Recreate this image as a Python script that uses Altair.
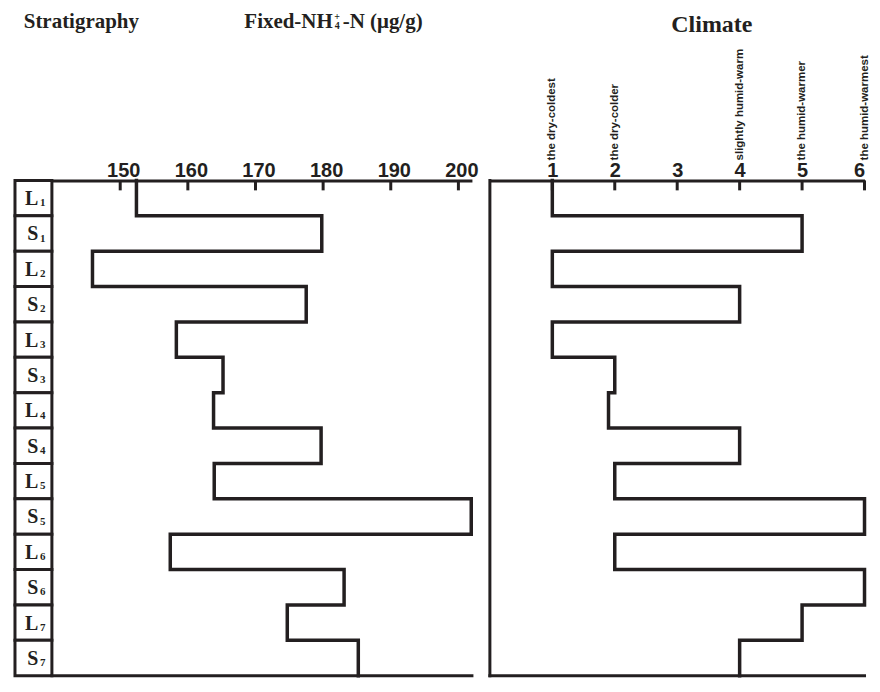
import altair as alt
import pandas as pd

# ---------------- data ----------------
layers = ["L", "S", "L", "S", "L", "S", "L", "S", "L", "S", "L", "S", "L", "S"]
layer_nums = ["1", "1", "2", "2", "3", "3", "4", "4", "5", "5", "6", "6", "7", "7"]
nh4_values = [152.4, 179.8, 145.9, 177.5, 158.3, 165.2, 163.8, 179.7, 163.9, 201.9, 157.4, 183.1, 174.7, 185.2]
climate_values = [1, 5, 1, 4, 1, 2, 1.9, 4, 2, 6, 2, 6, 5, 4]
nh4_ticks = [150, 160, 170, 180, 190, 200]
climate_ticks = [1, 2, 3, 4, 5, 6]
climate_tick_labels = ["the dry-coldest", "the dry-colder", "", "slightly humid-warm",
                       "the humid-warmer", "the humid-warmest"]

# ---------------- layout ----------------
TOP = 180          # page y of plot top (used for title offsets)
H = 496.5
W_S = 37
W_N = 421
GAP = 18
W_C = 375.5
INK = "#231f20"
SERIF = "Liberation Serif"
SANS = "Liberation Sans"

n = len(layers)
rows = pd.DataFrame({"layer": layers, "num": layer_nums,
                     "top": list(range(n)), "bot": list(range(1, n + 1))})
rows["mid"] = rows["top"] + 0.5

yscale = alt.Scale(domain=[0, n], reverse=True, nice=False, zero=False)


def step_df(values):
    recs = []
    for i, v in enumerate(values):
        recs.append({"v": v, "d": i, "o": 2 * i})
        recs.append({"v": v, "d": i + 1, "o": 2 * i + 1})
    return pd.DataFrame(recs)


def txt(t, x, base_page, size, align="left", font=SERIF, weight="bold"):
    return alt.Chart(pd.DataFrame({"t": [t]})).mark_text(
        font=font, fontWeight=weight, fontSize=size, align=align, baseline="alphabetic",
        color=INK
    ).encode(x=alt.value(x), y=alt.value(base_page - TOP), text="t:N")


# ---------------- stratigraphy column ----------------
base_s = alt.Chart(rows)
cells = base_s.mark_rect(fill="white", stroke=INK, strokeWidth=3).encode(
    x=alt.value(0), x2=alt.value(W_S),
    y=alt.Y("top:Q", scale=yscale, axis=None), y2="bot:Q")
letters = base_s.mark_text(font=SERIF, fontWeight="bold", fontSize=20, align="right",
                           baseline="alphabetic", dy=7.0, color=INK).encode(
    x=alt.value(23.5), y=alt.Y("mid:Q", scale=yscale, axis=None), text="layer:N")
subs = base_s.mark_text(font=SERIF, fontWeight="bold", fontSize=11, align="left",
                        baseline="alphabetic", dy=8.2, color=INK).encode(
    x=alt.value(25), y=alt.Y("mid:Q", scale=yscale, axis=None), text="num:N")
strat = alt.layer(cells, letters, subs,
                  txt("Stratigraphy", 66.5, 27, 21, align="center")
                  ).properties(width=W_S, height=H)

# ---------------- Fixed-NH4 panel ----------------
xs_n = alt.Scale(domain=[139.9, 202], nice=False, zero=False)
nh_line = alt.Chart(step_df(nh4_values)).mark_line(
    color=INK, strokeWidth=3.5, strokeJoin="miter", strokeCap="square").encode(
    x=alt.X("v:Q", scale=xs_n,
            axis=alt.Axis(orient="top", values=nh4_ticks, title=None, labelOffset=3,
                          format="d", grid=False)),
    y=alt.Y("d:Q", scale=yscale, axis=None),
    order="o:Q")
nh_ticks = alt.Chart(pd.DataFrame({"v": nh4_ticks})).mark_rule(color=INK, strokeWidth=3).encode(
    x=alt.X("v:Q", scale=xs_n), y=alt.value(0), y2=alt.value(10))
nh_bottom = alt.Chart(pd.DataFrame({"v": [0]})).mark_rule(color=INK, strokeWidth=3, strokeCap="square").encode(
    x=alt.datum(139.9), x2=alt.datum(202), y=alt.datum(n))
nh4 = alt.layer(
    nh_line, nh_ticks, nh_bottom,
    txt("Fixed-NH", 281.5, 27.5, 21, align="right"),
    txt("4", 283.5, 28.5, 10),
    txt("+", 283.0, 19, 10),
    txt("-N (\u03bcg/g)", 291.5, 27.5, 21),
).properties(width=W_N, height=H)

# ---------------- Climate panel ----------------
xs_c = alt.Scale(domain=[0, 6], range=[GAP, GAP + W_C], nice=False, zero=False)
cl_line = alt.Chart(step_df(climate_values)).mark_line(
    color=INK, strokeWidth=3.5, strokeJoin="miter", strokeCap="square").encode(
    x=alt.X("v:Q", scale=xs_c,
            axis=alt.Axis(orient="top", values=climate_ticks, title=None, labelFlush=True,
                          format="d", grid=False)),
    y=alt.Y("d:Q", scale=yscale, axis=None),
    order="o:Q")
cl_ticks = alt.Chart(pd.DataFrame({"v": climate_ticks})).mark_rule(color=INK, strokeWidth=3).encode(
    x=alt.X("v:Q", scale=xs_c), y=alt.value(0), y2=alt.value(10))
cl_left = alt.Chart(pd.DataFrame({"v": [0]})).mark_rule(color=INK, strokeWidth=3, strokeCap="square").encode(
    x=alt.datum(0), y=alt.datum(0), y2=alt.datum(n))
cl_bottom = alt.Chart(pd.DataFrame({"v": [0]})).mark_rule(color=INK, strokeWidth=3, strokeCap="square").encode(
    x=alt.datum(0), x2=alt.datum(6), y=alt.datum(n))
lab_df = pd.DataFrame({"v": climate_ticks, "lab": climate_tick_labels})
lab_df = lab_df[lab_df["lab"] != ""]
cl_labels = alt.Chart(lab_df).mark_text(
    font=SANS, fontWeight="bold", fontSize=11.5, angle=270, align="left",
    baseline="middle", color=INK).encode(
    x=alt.X("v:Q", scale=xs_c), y=alt.value(-20), text="lab:N")
clim = alt.layer(
    cl_line, cl_ticks, cl_left, cl_bottom, cl_labels,
    txt("Climate", 240.5, 31, 24, align="center"),
).properties(width=GAP + W_C, height=H)

chart = alt.hconcat(strat, nh4, clim, spacing=0, bounds="flush").properties(
    padding={"left": 5, "top": 2, "right": 0, "bottom": 0},
    background="white",
).configure_view(stroke=None).configure_axis(
    domainColor=INK, domainWidth=3, labelFont=SANS, labelFontWeight="bold",
    labelFontSize=20, labelColor=INK, ticks=False, tickSize=0, labelPadding=4,
    labelBaseline="alphabetic", grid=False
)

chart.save("out.html", embed_options={"renderer": "svg", "actions": False})
